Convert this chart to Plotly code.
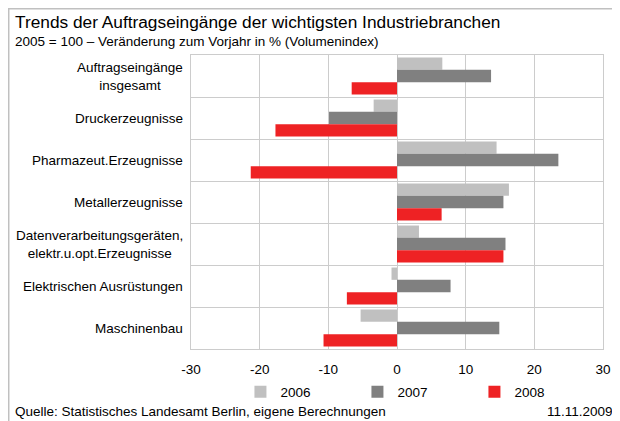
import plotly.graph_objects as go

# Branches, top to bottom
branches = [
    "Auftragseingänge<br>insgesamt",
    "Druckerzeugnisse",
    "Pharmazeut.Erzeugnisse",
    "Metallerzeugnisse",
    "Datenverarbeitungsgeräten,<br>elektr.u.opt.Erzeugnisse",
    "Elektrischen Ausrüstungen",
    "Maschinenbau",
]
years = ["2006", "2007", "2008"]
change_2006 = [6.6, -3.4, 14.5, 16.3, 3.2, -0.8, -5.3]
change_2007 = [13.7, -9.9, 23.5, 15.5, 15.8, 7.8, 14.9]
change_2008 = [-6.6, -17.7, -21.3, 6.5, 15.5, -7.3, -10.7]
x_ticks = [-30, -20, -10, 0, 10, 20, 30]
x_tick_labels = ["-30", "-20", "-10", "0", "10", "20", "30"]

colors = ["#c0c0c0", "#808080", "#ee2224"]
font_family = "Arial, Liberation Sans, sans-serif"
small = 13.5

fig = go.Figure()
for year, values, color in zip(years, [change_2006, change_2007, change_2008], colors):
    fig.add_trace(
        go.Bar(
            y=branches,
            x=values,
            orientation="h",
            name=year,
            marker={"color": color, "line": {"width": 0}},
        )
    )

# category labels: right aligned block, lines centered (like the original)
for b in branches:
    fig.add_annotation(
        x=0, xref="paper", y=b, yref="y",
        text=b, showarrow=False, xanchor="right", align="center",
        xshift=-6, font={"size": small, "color": "#000000"},
    )

grid = "#cccccc"
fig.update_yaxes(
    type="category",
    autorange="reversed",
    tickson="boundaries",
    showticklabels=False,
    ticks="",
    showgrid=True,
    gridcolor=grid,
    gridwidth=1,
    showline=True,
    mirror=True,
    linecolor=grid,
    linewidth=1,
)
fig.update_xaxes(
    range=[-30, 30],
    tickvals=x_ticks,
    ticktext=x_tick_labels,
    ticks="",
    ticklabelstandoff=8,
    tickfont={"size": small, "color": "#000000"},
    showgrid=True,
    gridcolor=grid,
    gridwidth=1,
    zeroline=False,
    showline=True,
    mirror=True,
    linecolor=grid,
    linewidth=1,
)

# the page body has an 8px margin, so the figure is 8px smaller on each side
fig.update_layout(
    width=612,
    height=413,
    margin={"l": 183, "r": 17, "t": 47, "b": 72, "autoexpand": False},
    barmode="group",
    bargap=0.12,
    bargroupgap=0,
    plot_bgcolor="white",
    paper_bgcolor="white",
    font={"family": font_family, "color": "#000000"},
    showlegend=True,
    legend={
        "orientation": "h",
        "x": 0.12,
        "xanchor": "left",
        "y": -0.146,
        "yanchor": "middle",
        "entrywidth": 72,
        "entrywidthmode": "pixels",
        "font": {"size": small},
        "bgcolor": "rgba(0,0,0,0)",
    },
)

# titles and footer
fig.add_annotation(
    x=-0.432, xref="paper", y=1.112, yref="paper", xanchor="left", yanchor="middle",
    text="Trends der Auftragseingänge der wichtigsten Industriebranchen",
    showarrow=False, font={"size": 17.3},
)
fig.add_annotation(
    x=-0.432, xref="paper", y=1.045, yref="paper", xanchor="left", yanchor="middle",
    text="2005 = 100 – Veränderung zum Vorjahr in % (Volumenindex)",
    showarrow=False, font={"size": small},
)
fig.add_annotation(
    x=-0.432, xref="paper", y=-0.211, yref="paper", xanchor="left", yanchor="middle",
    text="Quelle: Statistisches Landesamt Berlin, eigene Berechnungen",
    showarrow=False, font={"size": small},
)
fig.add_annotation(
    x=1.029, xref="paper", y=-0.211, yref="paper", xanchor="right", yanchor="middle",
    text="11.11.2009",
    showarrow=False, font={"size": small},
)

# outer frame
fig.add_shape(
    type="rect", xref="paper", yref="paper",
    x0=-0.4424, x1=1.0394, y0=-0.3, y1=1.1573,
    line={"color": "#c0c0c0", "width": 1.5},
    layer="below",
)

fig.write_html("out.html")
